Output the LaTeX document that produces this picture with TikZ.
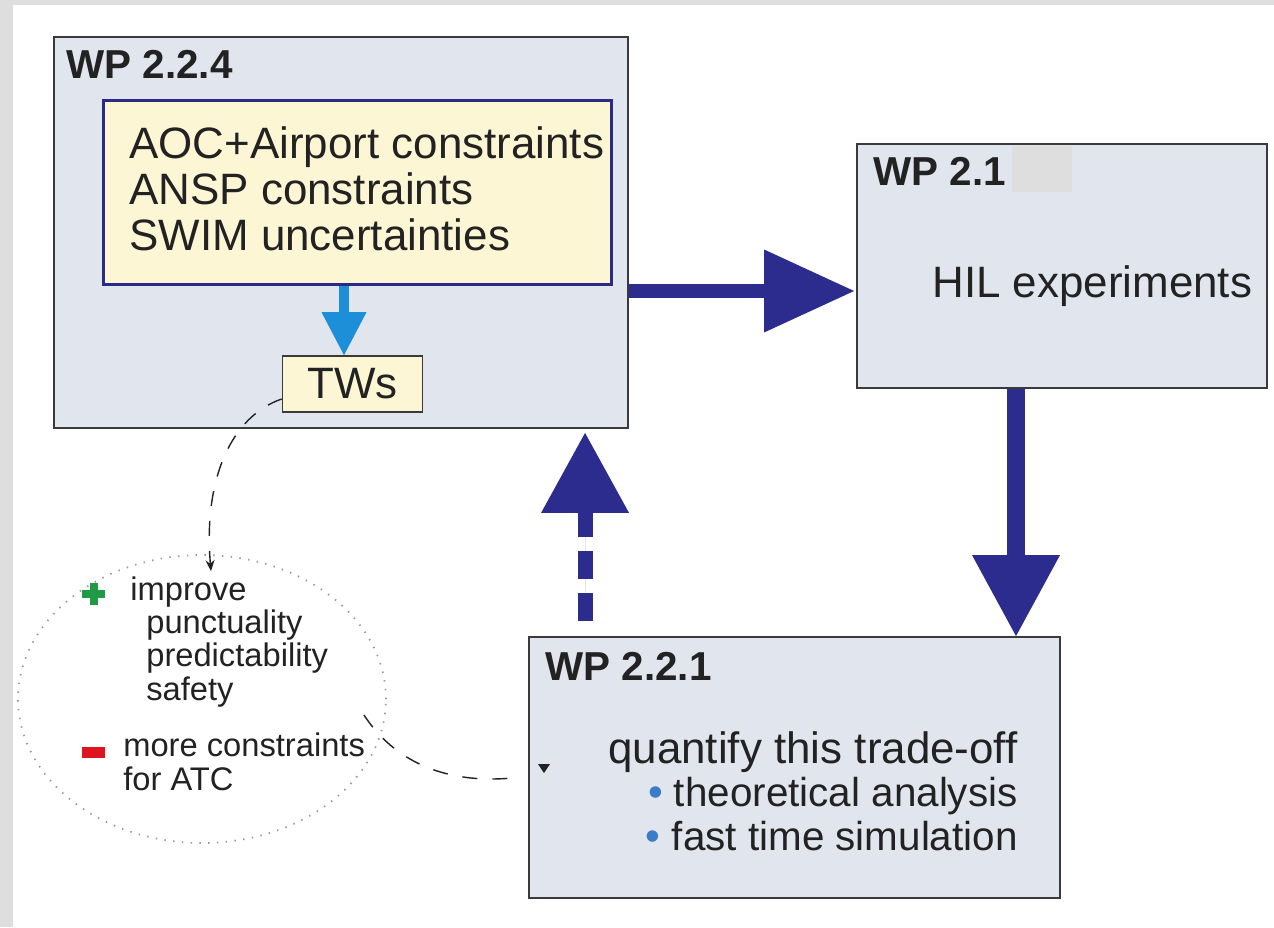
\documentclass[tikz,border=0pt]{standalone}
\usepackage{fontspec}
\setmainfont{Liberation Sans}
\usetikzlibrary{arrows.meta,shapes.geometric}

\definecolor{boxfill}{HTML}{E1E6EE}
\definecolor{boxline}{HTML}{3A3A3A}
\definecolor{notefill}{HTML}{FCF6D4}
\definecolor{noteline}{HTML}{2B2A86}
\definecolor{navy}{HTML}{2B2C8E}
\definecolor{skyblue}{HTML}{1C8FD8}
\definecolor{plusgreen}{HTML}{1F9A45}
\definecolor{minusred}{HTML}{E0141E}
\definecolor{bulletblue}{HTML}{3B7BC8}
\definecolor{edgegray}{HTML}{DEDEDE}
\definecolor{inkgray}{HTML}{222222}

\newcommand{\bul}{{\color{bulletblue}\fontsize{24}{24}\selectfont\textbullet}}

\tikzset{
  wpbox/.style={draw=boxline, line width=1.1pt, fill=boxfill, inner sep=0pt},
  notebox/.style={draw=noteline, line width=1.7pt, fill=notefill, inner sep=0pt},
  wptitle/.style={font=\fontsize{23}{25}\selectfont\bfseries, text=inkgray, anchor=base west, inner sep=0pt},
  bigtext/.style={font=\fontsize{25}{26}\selectfont, text=inkgray, inner sep=0pt},
  smalltext/.style={font=\fontsize{18.6}{19}\selectfont, text=inkgray, inner sep=0pt, align=left, anchor=base west},
  flowarrow/.style={draw=navy, fill=navy},
  dashlink/.style={draw=inkgray, line width=0.8pt, dash pattern=on 0.3cm off 0.3cm}
}

\begin{document}
\begin{tikzpicture}[x=0.02cm, y=-0.02cm]
			%%%%% FRAME %%%%%
			\useasboundingbox (0,0) rectangle (1274,927);
			\fill[white] (0,0) rectangle (1274,927);
			\fill[edgegray] (0,0) rectangle (13,927);
			\fill[edgegray] (0,0) rectangle (1274,5);
			
			%%%%% BOXES %%%%%
			\node[wpbox, minimum width=11.48cm, minimum height=7.82cm] (wp224) at (341,232.5) {};
			\node[notebox, minimum width=10.18cm, minimum height=3.7cm] (cons) at (357.5,192.5) {};
			\node[wpbox, fill=notefill, line width=0.9pt, minimum width=2.8cm, minimum height=1.12cm, bigtext] (tws) at (352.5,384) {TWs};
			
			\node[wpbox, minimum width=8.2cm, minimum height=4.88cm] (wp21) at (1062,266) {};
			\fill[edgegray] (1012,146) rectangle (1072,192);
			
			\node[wpbox, minimum width=10.62cm, minimum height=5.22cm] (wp221) at (794.5,767.5) {};
			
			\node[ellipse, draw=gray!80, line width=1pt, dash pattern=on 0.8pt off 4.2pt, minimum width=7.36cm, minimum height=5.76cm] (gain) at (202,699) {};
			
			%%%%% TEXTS %%%%%
			\node[wptitle] (t224) at (66,78) {WP 2.2.4};
			\node[wptitle] (t21) at (873,185) {WP 2.1};
			\node[wptitle] (t221) at (545,680) {WP 2.2.1};
			
			\node[bigtext, align=left, anchor=base west] (constext) at (129,250) {AOC+Airport constraints\\ANSP constraints\\SWIM uncertainties};
			\node[bigtext, anchor=base west] (hil) at (932,297) {HIL experiments};
			\node[bigtext, font=\fontsize{25}{24.5}\selectfont, align=right, anchor=base east] (quant) at (1018,850) {quantify this trade-off\\{\fontsize{23}{24.5}\selectfont\bul\ theoretical analysis}\\{\fontsize{23}{24.5}\selectfont\bul\ fast time simulation}};
			
			\fill[plusgreen] (82,590) rectangle (105,598);
			\fill[plusgreen] (89.5,583) rectangle (97.5,605);
			\node[smalltext] (improve) at (130,600) {improve};
			\node[smalltext] (benefits) at (146,700) {punctuality\\predictability\\safety};
			\fill[minusred] (82,747) rectangle (105,758);
			\node[smalltext] (costs) at (123,790) {more constraints\\for ATC};
			
			%%%%% ARROWS %%%%%
			\coordinate (consout) at ([xshift=-0.27cm]cons.south);
			\draw[draw=skyblue, line width=0.2cm, -{Triangle[length=0.86cm, width=0.9cm, line width=0pt]}] (consout) -- (consout |- tws.north);
			
			\coordinate (out224) at ([yshift=-1.17cm]wp224.east);
			\draw[flowarrow, line width=0.28cm, -{Triangle[length=1.8cm, width=1.66cm, line width=0pt]}] (out224) -- ([xshift=-0.04cm]out224 -| wp21.west);
			
			\coordinate (out21) at ([xshift=-0.92cm]wp21.south);
			\draw[flowarrow, line width=0.36cm, -{Triangle[length=1.62cm, width=1.76cm, line width=0pt]}] (out21) -- (out21 |- wp221.north);
			
			\coordinate (out221) at ([xshift=-4.19cm]wp221.north);
			\draw[flowarrow, line width=0.3cm, dash pattern=on 0.56cm off 0.28cm, shorten <=0.3cm, shorten >=0.08cm, -{Triangle[length=1.6cm, width=1.76cm, line width=0pt]}] (out221) -- (out221 |- wp224.south);
			
			%%%%% DASHED LINKS %%%%%
			\coordinate (twsout) at ([yshift=-0.3cm]tws.west);
			\coordinate (gainin) at ([xshift=0.18cm, yshift=-0.34cm]gain.north);
			\draw[dashlink, -{Stealth[length=0.22cm, width=0.18cm]}] (twsout) .. controls (232,416) and (203,478) .. (gainin);
			
			\coordinate (gainout) at ([xshift=3.24cm, yshift=-0.32cm]gain.center);
			\coordinate (quantin) at ([xshift=-0.14cm, yshift=-0.19cm]wp221.west);
			\draw[dashlink] (gainout) .. controls (400,770) and (460,785) .. (quantin);
			\fill[inkgray] (538,764) -- (550,764) -- (544,773) -- cycle;
\end{tikzpicture}
\end{document}
